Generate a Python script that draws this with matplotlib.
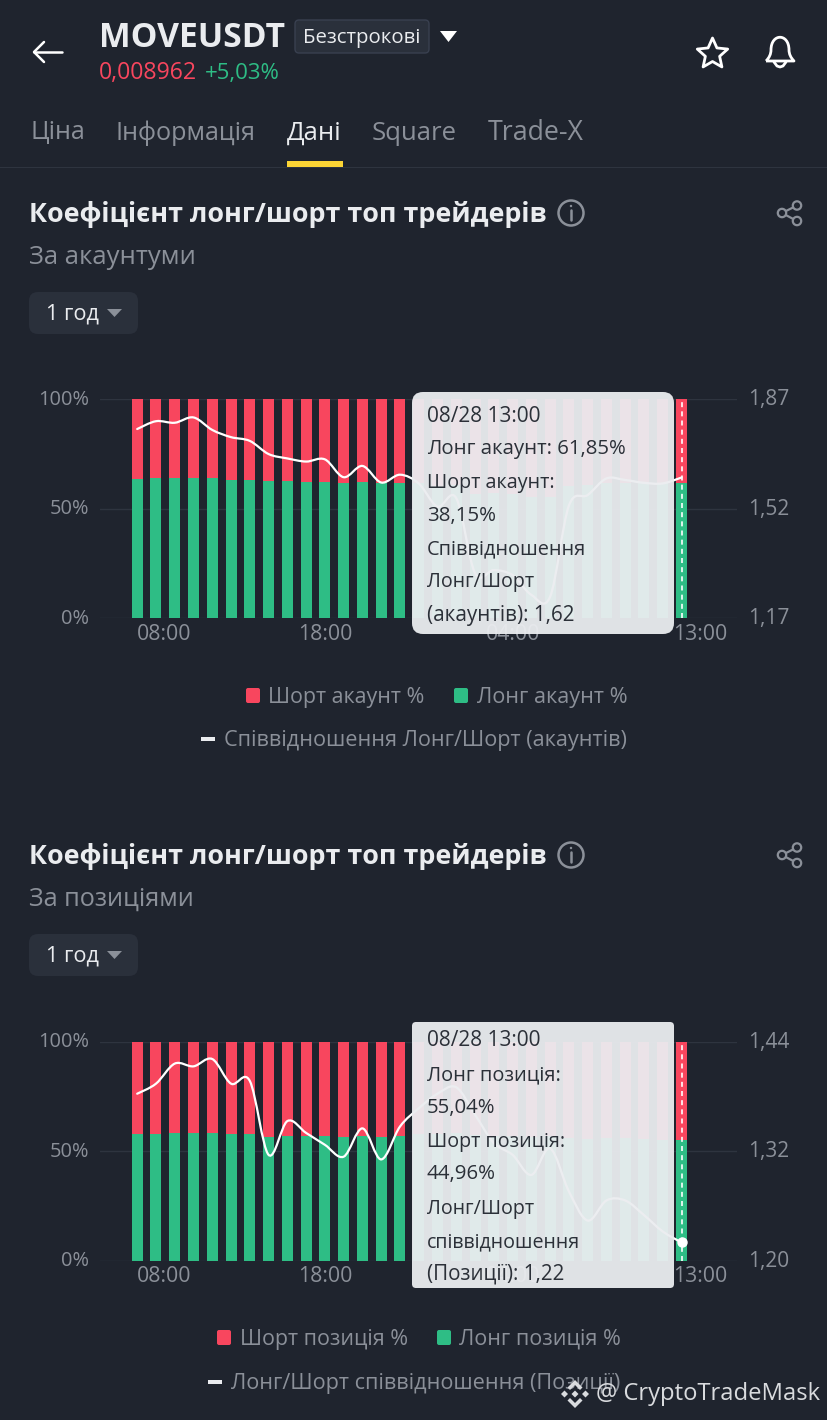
import numpy as np
import matplotlib
matplotlib.use('Agg')
import matplotlib.pyplot as plt
from matplotlib.path import Path
from matplotlib.patches import PathPatch, FancyBboxPatch, Rectangle, Circle, Polygon
from matplotlib.transforms import ScaledTranslation

plt.rcParams['font.family'] = ['Open Sans', 'Noto Sans', 'DejaVu Sans']

BG = '#1f242e'
RED = '#f8465e'
GREEN = '#2ebd85'
GREY = '#8b9099'
LIGHT = '#eaecef'
GRID = '#2e343f'
PANEL = '#2a303b'

W, H = 828, 1420

# hourly bars 08:00 .. 13:00 next day
tick_pos = [1.43, 10, 20, 30]
tick_labels = ['08:00', '18:00', '04:00', '13:00']

acc_long = [63.8, 64.2, 64.1, 64.2, 63.9, 63.3, 63.3, 62.7, 62.6, 62.4,
            62.4, 61.6, 62.3, 61.6, 61.6, 61.6, 60.4, 60.8, 56.8, 57.0,
            56.7, 55.5, 55.3, 60.5, 61.0, 61.8, 61.7, 61.6, 61.6, 61.85]
acc_ratio = [1.775, 1.800, 1.795, 1.812, 1.772, 1.749, 1.737, 1.695, 1.681, 1.671,
             1.678, 1.621, 1.657, 1.604, 1.629, 1.601, 1.527, 1.554, 1.314, 1.324,
             1.308, 1.245, 1.239, 1.530, 1.564, 1.617, 1.612, 1.603, 1.601, 1.620]
acc_ticks = [1.17, 1.52, 1.87]

pos_long = [57.8, 57.8, 58.3, 58.2, 58.4, 57.8, 57.8, 56.6, 57.1, 57.1,
            57.1, 56.6, 57.1, 56.6, 57.1, 57.8, 58.0, 58.2, 57.6, 57.1,
            56.8, 56.4, 57.0, 56.1, 55.4, 55.9, 55.9, 55.6, 55.2, 55.04]
pos_ratio = [1.383, 1.394, 1.416, 1.413, 1.421, 1.394, 1.397, 1.316, 1.353, 1.340,
             1.327, 1.314, 1.345, 1.311, 1.347, 1.367, 1.383, 1.390, 1.360, 1.329,
             1.316, 1.294, 1.323, 1.276, 1.244, 1.266, 1.266, 1.250, 1.232, 1.220]
pos_ticks = [1.20, 1.32, 1.44]

acc_tip = ['08/28 13:00', 'Лонг акаунт: 61,85%', 'Шорт акаунт:', '38,15%',
           'Співвідношення', 'Лонг/Шорт', '(акаунтів): 1,62']
pos_tip = ['08/28 13:00', 'Лонг позиція:', '55,04%', 'Шорт позиція:', '44,96%',
           'Лонг/Шорт', 'співвідношення', '(Позиції): 1,22']

fig = plt.figure(figsize=(W / 100, H / 100), dpi=100, facecolor=BG)
renderer = fig.canvas.get_renderer()


def smooth_path(x, y):
    # bezier through the points, same look as the app's smooth line
    pts = np.column_stack([x, y])
    verts = [pts[0]]
    codes = [Path.MOVETO]
    for i in range(len(pts) - 1):
        before = pts[max(i - 1, 0)]
        after = pts[min(i + 2, len(pts) - 1)]
        verts.append(pts[i] + (pts[i + 1] - before) / 6)
        verts.append(pts[i + 1] - (after - pts[i]) / 6)
        verts.append(pts[i + 1])
        codes += [Path.CURVE4] * 3
    return Path(verts, codes)


def draw_chart(top, bottom, long_vals, ratio, right_ticks, dot):
    left, right = 100, 737
    ax = fig.add_axes([left / W, 1 - bottom / H, (right - left) / W, (bottom - top) / H])
    ax.set_facecolor('none')
    step = 18.77
    ax.set_xlim(-(137.2 - left) / step, 29 + (right - 681.5) / step)
    ax.set_ylim(0, 100)
    x = np.arange(len(long_vals))
    ax.bar(x, long_vals, width=0.585, color=GREEN, zorder=2)
    ax.bar(x, 100 - np.array(long_vals), bottom=long_vals, width=0.585, color=RED, zorder=2)
    ax.set_yticks([0, 50, 100])
    ax.set_yticklabels(['0%', '50%', '100%'])
    ax.set_xticks(tick_pos)
    ax.set_xticklabels(tick_labels)
    ax.grid(axis='y', color=GRID, lw=1, zorder=0)
    ax.set_axisbelow(True)
    ax.tick_params(axis='y', length=0, pad=8, labelsize=14.4, labelcolor=GREY)
    ax.tick_params(axis='x', length=0, pad=4, labelsize=15.3, labelcolor=GREY)
    for s in ax.spines.values():
        s.set_visible(False)
    ax.axvline(29, color='white', lw=1.2, ls=(0, (3, 2.5)), zorder=3)

    ax2 = ax.twinx()
    ax2.set_ylim(right_ticks[0], right_ticks[-1])
    ax2.set_yticks(right_ticks)
    ax2.set_yticklabels([('%.2f' % v).replace('.', ',') for v in right_ticks])
    ax2.tick_params(axis='y', length=0, pad=8, labelsize=15, labelcolor=GREY)
    for s in ax2.spines.values():
        s.set_visible(False)
    ax2.add_patch(PathPatch(smooth_path(x, ratio), fc='none', ec='white', lw=1.6, zorder=4,
                            capstyle='round'))
    if dot:
        ax2.plot(x[-1], ratio[-1], 'o', color='white', ms=6.5, zorder=5)
    # value labels sit a little above their grid lines
    up = ScaledTranslation(0, 2 / 100, fig.dpi_scale_trans)
    for lab in ax.get_yticklabels() + ax2.get_yticklabels():
        lab.set_transform(lab.get_transform() + up)
    return ax, ax2


draw_chart(399.3, 618.3, acc_long, acc_ratio, acc_ticks, False)
draw_chart(1041.7, 1260.7, pos_long, pos_ratio, pos_ticks, True)

# overlay in screen pixels for the app chrome
ui = fig.add_axes([0, 0, 1, 1], zorder=10)
ui.set_xlim(0, W)
ui.set_ylim(H, 0)
ui.axis('off')
ui.patch.set_alpha(0)


def put(x0, x1, y, s, color, size, weight='normal', zorder=12):
    t = ui.text(x0, y + 2, s, color=color, fontsize=size, fontweight=weight, va='center', ha='left',
                zorder=zorder)
    w = t.get_window_extent(renderer).width
    t.set_fontsize(size * (x1 - x0) / w)
    return t


def box(x0, y0, x1, y1, r, fc, ec='none', alpha=None, zorder=6):
    p = FancyBboxPatch((x0 + r, y0 + r), x1 - x0 - 2 * r, y1 - y0 - 2 * r,
                       boxstyle='round,pad=%s,rounding_size=%s' % (r, r),
                       fc=fc, ec=ec, lw=1, alpha=alpha, zorder=zorder)
    ui.add_patch(p)


def tri(x0, x1, y0, y1, color):
    ui.add_patch(Polygon([(x0, y0), (x1, y0), ((x0 + x1) / 2, y1)], closed=True, fc=color, ec='none',
                         zorder=12))


def stroke(xs, ys, color=LIGHT, lw=2):
    ui.plot(xs, ys, color=color, lw=lw, solid_capstyle='round', solid_joinstyle='round')


# header
stroke([34, 62], [52, 52], 'white', 1.8)
stroke([44, 34, 44], [42, 52, 62], 'white', 1.8)
put(99, 286, 36, 'MOVEUSDT', LIGHT, 23, 'bold')
box(295, 20, 429, 53, 4, PANEL, '#394050')
put(303, 421, 36, 'Безстрокові', LIGHT, 14)
tri(440, 457, 31, 42, 'white')
put(99, 197, 71, '0,008962', RED, 15)
put(205, 280, 71, '+5,03%', GREEN, 15)

# star and bell
angles = np.deg2rad(np.arange(-90, 270, 36))
radii = np.tile([16, 7.5], 5)
star = np.column_stack([712.5 + radii * np.cos(angles), 54 + radii * np.sin(angles)])
ui.add_patch(Polygon(star, closed=True, fc='none', ec='white', lw=2, joinstyle='round'))
bell = Path([(766, 61), (771, 56), (771, 50), (771, 33), (789, 33), (789, 50),
             (789, 56), (794, 61), (794, 61), (766, 61)],
            [Path.MOVETO, Path.CURVE3, Path.CURVE3, Path.CURVE4, Path.CURVE4, Path.CURVE4,
             Path.CURVE3, Path.CURVE3, Path.LINETO, Path.LINETO])
ui.add_patch(PathPatch(bell, fc='none', ec='white', lw=2, joinstyle='round'))
stroke([774, 777, 780, 783, 786], [62, 66, 67, 66, 62], 'white', 2)

# tabs
tabs = [('Ціна', 31, 86), ('Інформація', 116, 256), ('Дані', 287, 342),
        ('Square', 372, 457), ('Trade-X', 488, 584)]
for name, a, b in tabs:
    put(a, b, 131, name, LIGHT if name == 'Дані' else GREY, 18, 'medium' if name == 'Дані' else 'normal')
ui.add_patch(Rectangle((0, 167), W, 1, fc=GRID, ec='none'))
ui.add_patch(Rectangle((287, 161), 56, 6, fc='#fcd535', ec='none'))


def section(dy, subtitle, sub_end):
    put(29, 547, 213 + dy, 'Коефіцієнт лонг/шорт топ трейдерів', LIGHT, 20, 'bold')
    ui.add_patch(Circle((571, 213 + dy), 12.5, fc='none', ec=GREY, lw=1.8))
    stroke([571, 571], [210 + dy, 220 + dy], GREY, 1.8)
    ui.add_patch(Circle((571, 206 + dy), 1.2, fc=GREY, ec='none'))
    sx, sy = [797, 782, 797], [205.5 + dy, 213 + dy, 221 + dy]
    stroke(sx, sy, GREY, 1.6)
    for a, b in zip(sx, sy):
        ui.add_patch(Circle((a, b), 4.2, fc=BG, ec=GREY, lw=1.6, zorder=5))
    put(29, sub_end, 255 + dy, subtitle, GREY, 17)
    box(29, 292 + dy, 138, 334 + dy, 9, PANEL)
    put(46, 99, 312 + dy, '1 год', LIGHT, 15)
    tri(107, 122, 309 + dy, 317 + dy, GREY)


section(0, 'За акаунтуми', 196)
section(642, 'За позиціями', 194)


def tooltip(x0, y0, x1, y1, r, lines, ys, ends):
    box(x0, y0, x1, y1, r, '#ebedf0', alpha=0.95, zorder=6)
    for s, y, e in zip(lines, ys, ends):
        put(427, e, y, s, '#2b3038', 15)


tooltip(412, 392, 674, 634, 11, acc_tip, [414, 447, 481, 514, 547, 580, 614],
        [541, 626, 555, 496, 585, 534, 575])
tooltip(412, 1022, 674, 1288, 4, pos_tip, [1039, 1073, 1106, 1140, 1172, 1207, 1240, 1272],
        [541, 560, 496, 565, 496, 534, 581, 565])


def legend(y1, y2, red_x, red_txt, green_x, green_txt, dash_x, line_txt):
    ui.add_patch(FancyBboxPatch((red_x + 2, y1 - 5.5), 10, 11, boxstyle='round,pad=2,rounding_size=2',
                                fc=RED, ec='none'))
    ui.add_patch(FancyBboxPatch((green_x + 2, y1 - 5.5), 10, 11, boxstyle='round,pad=2,rounding_size=2',
                                fc=GREEN, ec='none'))
    put(red_txt[1], red_txt[2], y1 - 0.5, red_txt[0], GREY, 15)
    put(green_txt[1], green_txt[2], y1 - 0.5, green_txt[0], GREY, 15)
    ui.add_patch(Rectangle((dash_x, y2 - 2), 14, 4, fc=LIGHT, ec='none'))
    put(line_txt[1], line_txt[2], y2 - 0.5, line_txt[0], GREY, 15)


legend(695.5, 739, 246, ('Шорт акаунт %', 268, 424), 454, ('Лонг акаунт %', 477, 627),
       201, ('Співвідношення Лонг/Шорт (акаунтів)', 224, 627))
legend(1337.5, 1382, 217, ('Шорт позиція %', 240, 407), 437, ('Лонг позиція %', 459, 620),
       208, ('Лонг/Шорт співвідношення (Позиції)', 231, 620))

# watermark logo
lx, ly = 575, 1394
logo = [[(0, -3.5), (3.5, 0), (0, 3.5), (-3.5, 0)],
        [(-10.5, -3.5), (-7, 0), (-10.5, 3.5), (-14, 0)],
        [(10.5, -3.5), (14, 0), (10.5, 3.5), (7, 0)],
        [(0, -14), (7.5, -6.5), (5, -4), (0, -9), (-5, -4), (-7.5, -6.5)],
        [(0, 14), (7.5, 6.5), (5, 4), (0, 9), (-5, 4), (-7.5, 6.5)]]
for shape in logo:
    ui.add_patch(Polygon([(lx + a, ly + b) for a, b in shape], closed=True, fc='#d9dbde', ec='none', zorder=13))
put(596, 820, 1392, '@ CryptoTradeMask', '#d9dbde', 17, zorder=13)

fig.savefig('out.png', dpi=100, facecolor=BG)
